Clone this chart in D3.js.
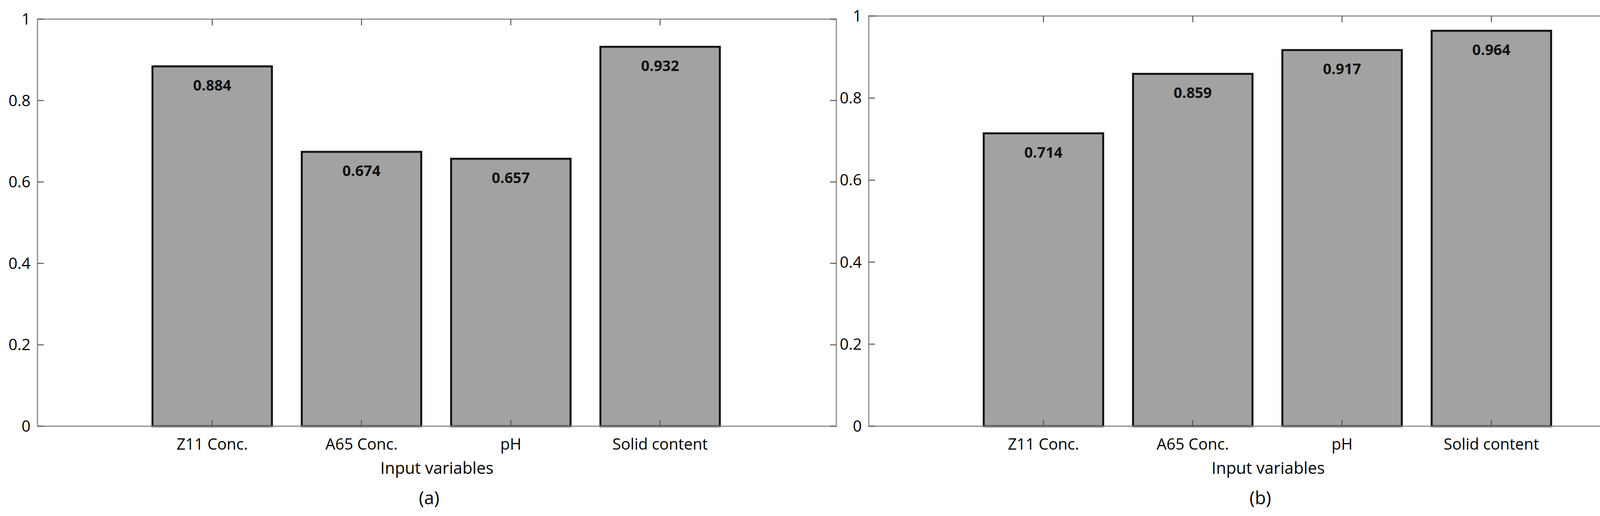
<!DOCTYPE html>
<html>
<head>
<meta charset="utf-8">
<script src="https://cdn.jsdelivr.net/npm/d3@7"></script>
<style>
  body { margin: 0; background: #fff; }
  text { font-family: "Open Sans", Roboto, sans-serif; }
</style>
</head>
<body>
<div id="wrapper"></div>
<script>
// Data
const categories = ["Z11 Conc.", "A65 Conc.", "pH", "Solid content"];
const valuesA = [0.884, 0.674, 0.657, 0.932];
const valuesB = [0.714, 0.859, 0.917, 0.964];
const yTicks = [0, 0.2, 0.4, 0.6, 0.8, 1];
const panelLabels = ["(a)", "(b)"];

const svg = d3.select("#wrapper").append("svg")
    .attr("width", 4318)
    .attr("height", 1322);

// Draw one panel
const drawPanel = (values, label, left, top) => {
    const w = 2045, h = 1092 - top;
    const g = svg.append("g").attr("transform", `translate(${left},${top})`);

    const xScale = d3.scaleLinear().domain([-0.17, 5.18]).range([0, w]);
    const yScale = d3.scaleLinear().domain([0, 1]).range([h, 0]);
    const barW = xScale(0.8) - xScale(0);

    // bars
    g.selectAll("rect").data(values).enter().append("rect")
        .attr("x", (d, i) => xScale(i + 1) - barW / 2)
        .attr("y", d => yScale(d))
        .attr("width", barW)
        .attr("height", d => h - yScale(d))
        .attr("fill", "#a2a2a2")
        .attr("stroke", "#111")
        .attr("stroke-width", 5);

    // value labels
    g.selectAll(".val").data(values).enter().append("text")
        .attr("x", (d, i) => xScale(i + 1))
        .attr("y", d => yScale(d) + 62)
        .attr("text-anchor", "middle")
        .attr("font-size", 38)
        .attr("font-weight", "bold")
        .attr("fill", "#111")
        .text(d => d3.format(".3f")(d));

    // axes box
    g.append("rect").attr("width", w).attr("height", h)
        .attr("fill", "none").attr("stroke", "#8a8a8a").attr("stroke-width", 3);

    const tickLen = 16;
    const xPos = categories.map((c, i) => i + 1);
    // x ticks, bottom & top, inward
    g.selectAll(".xt").data(xPos).enter().append("path")
        .attr("d", d => `M${xScale(d)},${h}v${-tickLen}M${xScale(d)},0v${tickLen}`)
        .attr("stroke", "#555").attr("stroke-width", 2.5);
    // y ticks, left & right, inward
    g.selectAll(".yt").data(yTicks).enter().append("path")
        .attr("d", d => `M0,${yScale(d)}h${tickLen}M${w},${yScale(d)}h${-tickLen}`)
        .attr("stroke", "#555").attr("stroke-width", 2.5);

    // tick labels
    g.selectAll(".yl").data(yTicks).enter().append("text")
        .attr("x", -18)
        .attr("y", d => yScale(d) + 14)
        .attr("text-anchor", "end")
        .attr("font-size", 40)
        .text(d => d);
    g.selectAll(".xl").data(categories).enter().append("text")
        .attr("x", (d, i) => xScale(i + 1))
        .attr("y", h + 60)
        .attr("text-anchor", "middle")
        .attr("font-size", 40)
        .text(d => d);

    g.append("text")
        .attr("x", w / 2).attr("y", h + 122)
        .attr("text-anchor", "middle").attr("font-size", 42)
        .text("Input variables");
    g.append("text")
        .attr("x", w / 2 - 20).attr("y", h + 200)
        .attr("text-anchor", "middle").attr("font-size", 46)
        .text(label);
};

drawPanel(valuesA, panelLabels[0], 96, 49);
drawPanel(valuesB, panelLabels[1], 2224, 41);
</script>
</body>
</html>
